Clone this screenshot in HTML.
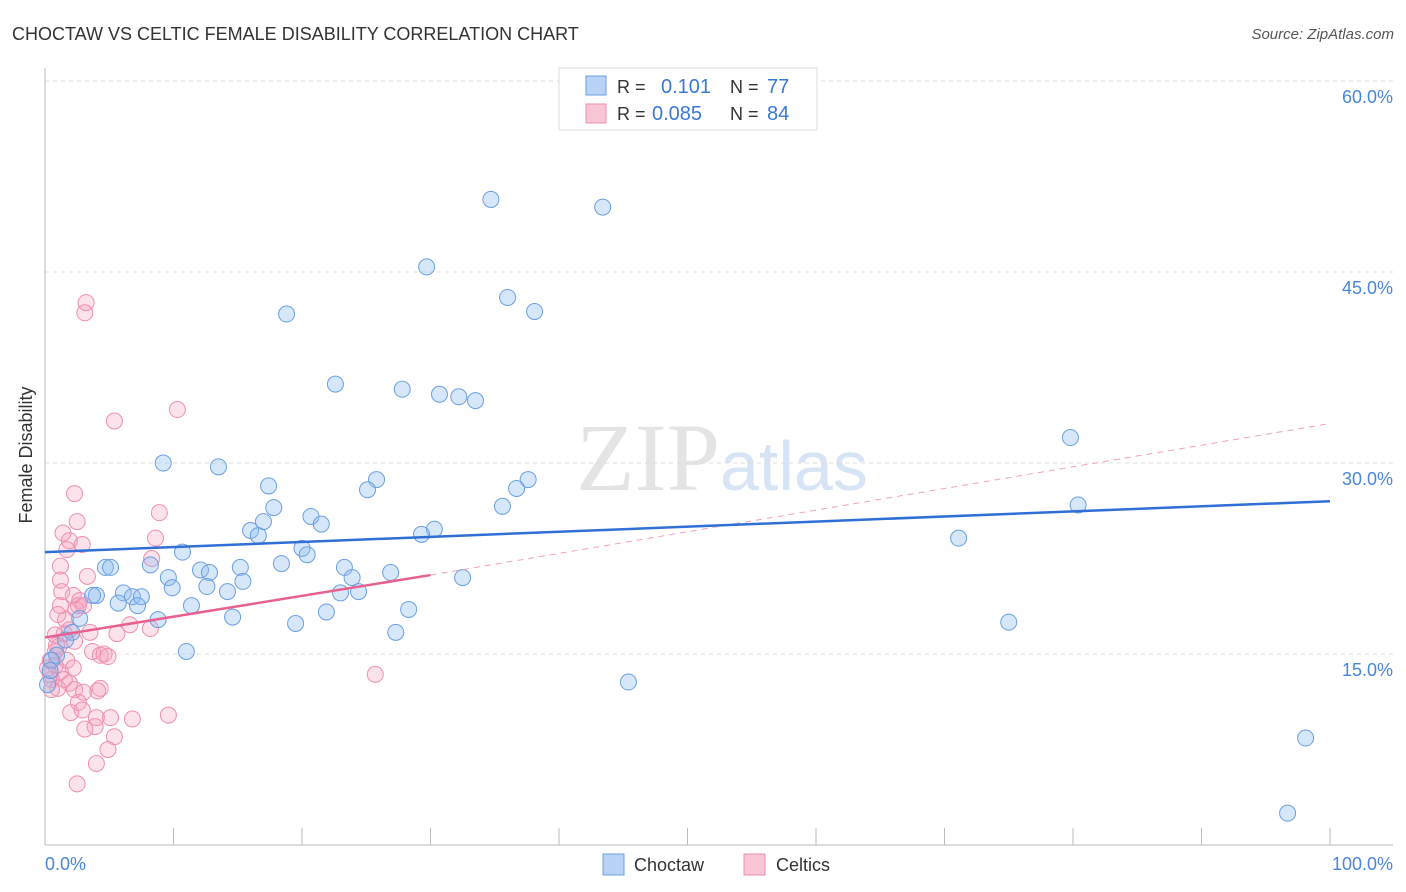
<!DOCTYPE html>
<html><head><meta charset="utf-8"><style>
body{margin:0;background:#fff;font-family:"Liberation Sans",sans-serif;}
svg{display:block}
</style></head><body>
<svg id="chart" width="1406" height="892" xmlns="http://www.w3.org/2000/svg">
<text x="12" y="40" font-size="18" fill="#333">CHOCTAW VS CELTIC FEMALE DISABILITY CORRELATION CHART</text>
<text x="1394" y="39" font-size="15" fill="#555" font-style="italic" text-anchor="end">Source: ZipAtlas.com</text>
<text x="720" y="490" font-size="96" fill="#e4e4e4" text-anchor="end" font-family="Liberation Serif">ZIP</text>
<text x="720" y="490" font-size="70" fill="#d6e4f5">atlas</text>
<g id="grid"></g>
<line x1="45" y1="68" x2="45" y2="845" stroke="#bbb"/>
<line x1="45" y1="845" x2="1393" y2="845" stroke="#bbb"/>
<text x="32" y="455" font-size="18" fill="#333" transform="rotate(-90 32 455)" text-anchor="middle">Female Disability</text>
<text x="45" y="870" font-size="18" fill="#4a86d8">0.0%</text>
<text x="1393" y="870" font-size="18" fill="#4a86d8" text-anchor="end">100.0%</text>
<g id="pts"></g>
<g id="trends"></g>
<g>
<rect x="559" y="68" width="258" height="62" fill="#fff" stroke="#ddd"/>
<rect x="586" y="76" width="20" height="19" fill="#b8d3f5" stroke="#6a9fe0"/>
<rect x="586" y="104" width="20" height="19" fill="#f9c6d6" stroke="#ee8fb0"/>
<text x="617" y="93" font-size="18" fill="#333">R = </text><text x="661" y="93" font-size="20" fill="#3a78d6">0.101</text>
<text x="730" y="93" font-size="18" fill="#333">N = </text><text x="767" y="93" font-size="20" fill="#3a78d6">77</text>
<text x="617" y="120" font-size="18" fill="#333">R = </text><text x="652" y="120" font-size="20" fill="#3a78d6">0.085</text>
<text x="730" y="120" font-size="18" fill="#333">N = </text><text x="767" y="120" font-size="20" fill="#3a78d6">84</text>
</g>
<g>
<rect x="603" y="854" width="21" height="21" fill="#b8d3f5" stroke="#6a9fe0"/>
<text x="634" y="871" font-size="18" fill="#333">Choctaw</text>
<rect x="744" y="854" width="21" height="21" fill="#f9c6d6" stroke="#ee8fb0"/>
<text x="776" y="871" font-size="18" fill="#333">Celtics</text>
</g>
</svg>
<script>
const yTicks=[15,30,45,60];
const xTicks=[0,10,20,30,40,50,60,70,80,90,100];
const blueX=[34.7,43.4,29.7,36.0,38.1,18.8,22.6,27.8,30.7,32.2,33.5,79.8,9.2,13.5,17.4,25.8,25.1,37.6,36.7,35.6,80.4,17.8,20.7,17.0,21.5,16.0,16.6,30.3,29.3,71.1,10.7,20.0,20.4,8.2,4.7,5.1,18.4,23.3,15.2,12.1,12.8,9.6,23.9,26.9,32.5,9.9,15.4,12.6,14.2,6.1,4.0,3.7,6.8,7.5,23.0,24.4,5.7,7.2,11.4,28.3,21.9,14.6,2.7,8.8,19.5,75.0,27.3,2.1,1.6,11.0,0.9,0.5,45.4,98.1,96.7,0.2,0.4];
const blueY=[50.7,50.1,45.4,43.0,41.9,41.7,36.2,35.8,35.4,35.2,34.9,32.0,30.0,29.7,28.2,28.7,27.9,28.7,28.0,26.6,26.7,26.5,25.8,25.4,25.2,24.7,24.3,24.8,24.4,24.1,23.0,23.3,22.8,22.0,21.8,21.8,22.1,21.8,21.8,21.6,21.4,21.0,21.0,21.4,21.0,20.2,20.7,20.3,19.9,19.8,19.6,19.6,19.5,19.5,19.8,19.9,19.0,18.8,18.8,18.5,18.3,17.9,17.8,17.7,17.4,17.5,16.7,16.7,16.1,15.2,14.9,14.5,12.8,8.4,2.5,12.6,13.7];
const pinkX=[3.2,3.1,5.4,10.3,2.3,8.9,2.5,1.4,1.9,2.9,8.6,1.7,8.3,1.2,3.3,1.2,2.2,1.3,2.7,2.6,1.2,2.4,3.0,6.6,8.2,1.9,1.5,3.5,5.6,0.8,2.3,1.1,0.8,3.7,4.3,4.6,4.9,0.4,0.8,1.7,2.2,1.2,0.4,25.7,0.5,1.5,1.9,1.0,2.3,4.3,4.1,3.0,2.6,2.0,2.9,4.0,5.1,6.8,9.6,3.9,3.1,5.4,4.9,4.0,2.5,0.2,0.5,0.9,1.6,1.0];
const pinkY=[42.6,41.8,33.3,34.2,27.6,26.1,25.4,24.5,23.9,23.6,24.1,23.2,22.5,21.9,21.1,20.8,19.6,19.9,19.2,18.8,18.8,18.5,18.8,17.3,17.0,16.9,16.6,16.7,16.6,16.5,16.0,15.6,15.2,15.2,14.9,15.0,14.8,14.5,14.1,14.5,13.9,13.6,13.4,13.4,13.0,13.0,12.7,12.3,12.2,12.3,12.1,12.0,11.2,10.4,10.6,10.0,10.0,9.9,10.2,9.3,9.1,8.5,7.5,6.4,4.8,13.9,12.2,15.7,17.7,18.1];
const blueTrend=[23.0,27.0];
const pinkTrend=[16.3,21.2,33.1];
const NS="http://www.w3.org/2000/svg";
const xs=v=>45+v*12.85, ys=v=>845-v*12.733;
function mk(t,a,p){const e=document.createElementNS(NS,t);for(const k in a)e.setAttribute(k,a[k]);p.appendChild(e);return e;}
const grid=document.getElementById('grid');
yTicks.forEach(t=>{
 const l=mk('line',{x1:45,x2:1393,y1:ys(t),y2:ys(t),stroke:'#ddd','stroke-dasharray':'4,4'},grid);
 
 
 const tx=mk('text',{x:1393,y:ys(t)+22,'font-size':18,fill:'#4a86d8','text-anchor':'end'},grid);
 tx.textContent=t.toFixed(1)+'%';
 
 
});
xTicks.forEach(t=>{
 const l=mk('line',{x1:xs(t),x2:xs(t),y1:828,y2:845,stroke:'#bbb'},grid);
 
 
});
const pts=document.getElementById('pts');
pinkX.forEach((x,i)=>{
 const c=mk('circle',{cx:xs(x),cy:ys(pinkY[i]),r:8,fill:'rgba(245,160,190,0.3)',stroke:'#ee8fb0','stroke-width':1},pts);
 
 
});
blueX.forEach((x,i)=>{
 const c=mk('circle',{cx:xs(x),cy:ys(blueY[i]),r:8,fill:'rgba(140,185,240,0.35)',stroke:'#6a9fe0','stroke-width':1},pts);
 
 
});
const tr=document.getElementById('trends');
const d=mk('line',{x1:xs(30),y1:ys(pinkTrend[1]),x2:xs(100),y2:ys(pinkTrend[2]),stroke:'#f0a0bb','stroke-width':1,'stroke-dasharray':'6,5'},tr);


const b=mk('line',{x1:xs(0),y1:ys(blueTrend[0]),x2:xs(100),y2:ys(blueTrend[1]),stroke:'#2f6fd6','stroke-width':2.5},tr);


const p=mk('line',{x1:xs(0),y1:ys(pinkTrend[0]),x2:xs(30),y2:ys(pinkTrend[1]),stroke:'#e8608f','stroke-width':2.5},tr);


</script>
</body></html>
